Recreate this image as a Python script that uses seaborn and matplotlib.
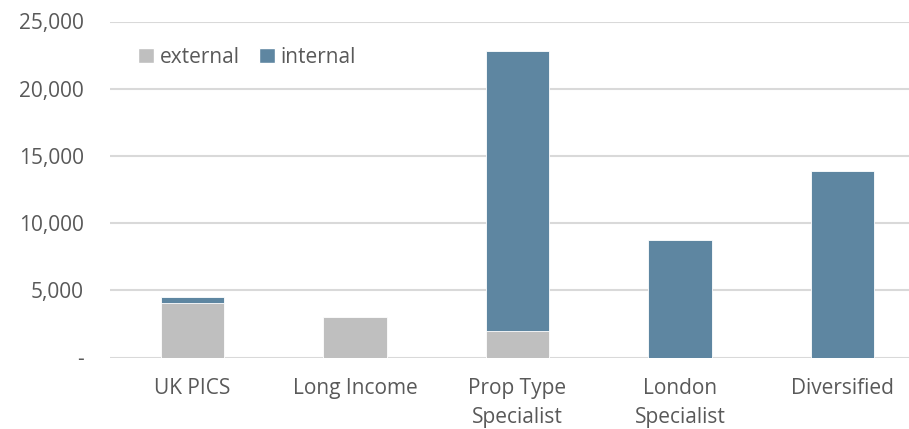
import matplotlib
matplotlib.use("Agg")
import matplotlib.pyplot as plt
from matplotlib.ticker import FuncFormatter
from matplotlib.patches import Patch
import seaborn as sns
import pandas as pd

categories = ["UK PICS", "Long Income", "Prop Type\nSpecialist", "London\nSpecialist", "Diversified"]
external = [4050, 3000, 2000, 0, 0]
internal = [450, 0, 20800, 8750, 13900]

GREY = "#BFBFBF"
BLUE = "#5E86A1"
TEXT = "#595959"

sns.set_theme(style="white")
plt.rcParams["font.family"] = ["Open Sans", "DejaVu Sans"]

df = pd.DataFrame({
    "category": categories,
    "external": external,
    "internal": internal,
})
df["total"] = df["external"] + df["internal"]

fig = plt.figure(figsize=(9.09, 4.29), dpi=100)
ax = fig.add_axes([110 / 909, 1 - 357.5 / 429, 1 - 110 / 909, (357.5 - 21.5) / 429])

# stacked columns: full height in blue, external share over it in grey
sns.barplot(data=df, x="category", y="total", color=BLUE, width=0.39,
            saturation=1, ax=ax, edgecolor="white", linewidth=0.6, zorder=3)
sns.barplot(data=df, x="category", y="external", color=GREY, width=0.39,
            saturation=1, ax=ax, edgecolor="white", linewidth=0.6, zorder=4)

ax.set_xlim(-0.508, 4.41)
ax.set_ylim(0, 25000)
ax.set_yticks([0, 5000, 10000, 15000, 20000, 25000])
ax.yaxis.set_major_formatter(FuncFormatter(lambda v, p: "-" if v == 0 else f"{v:,.0f}"))
ax.grid(axis="y", color="#D9D9D9", linewidth=1.5, zorder=0)
ax.set_axisbelow(True)
for s in ax.spines.values():
    s.set_visible(False)
ax.set_xlabel("")
ax.set_ylabel("")
ax.tick_params(axis="y", length=0, pad=19, labelsize=15, labelcolor=TEXT)
ax.tick_params(axis="x", length=0, pad=15, labelsize=15, labelcolor=TEXT)
for lbl in ax.get_xticklabels():
    lbl.set_linespacing(1.45)

handles = [Patch(facecolor=GREY, label="external"), Patch(facecolor=BLUE, label="internal")]
leg = ax.legend(handles=handles, loc="upper left", bbox_to_anchor=(0.025, 0.95), ncol=2,
                frameon=False, fontsize=15, handlelength=0.75, handleheight=0.75,
                handletextpad=0.3, columnspacing=0.9, borderaxespad=0)
for t in leg.get_texts():
    t.set_color(TEXT)

fig.savefig("out.png", dpi=100)
